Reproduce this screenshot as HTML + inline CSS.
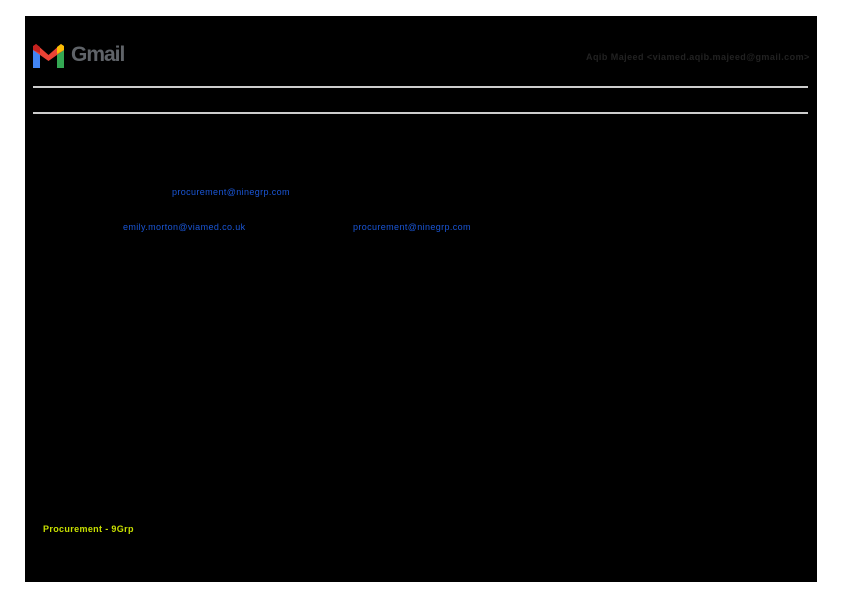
<!DOCTYPE html>
<html><head><meta charset="utf-8"><style>
html,body{margin:0;padding:0;background:#fff;width:842px;height:595px;overflow:hidden;font-family:"Liberation Sans",sans-serif}
#b{position:absolute;left:25px;top:16px;width:792px;height:566px;background:#000}
.t{position:absolute;white-space:nowrap}
.hr{position:absolute;left:33px;width:775px;height:2px;background:#ccc}
.a{color:#1a56d6;font-size:9px;letter-spacing:0.38px}
</style></head><body>
<div id="b"></div>
<svg style="position:absolute;left:33px;top:44px" width="31" height="24" viewBox="0 0 31 24">
<rect x="0" y="4" width="7" height="20" fill="#4285f4"/>
<rect x="24" y="4" width="7" height="20" fill="#34a853"/>
<polygon points="0,4 3,0 15.5,11 28,0 31,4 31,6 15.5,17 0,6" fill="#ea4335"/>
<polygon points="0,2 3,0 7,3 7,9 0,6" fill="#c5221f"/>
<polygon points="24,3 28,0 31,2 31,6 24,10" fill="#fbbc04"/>
</svg>
<div class="t" style="left:71px;top:43px;font-size:21px;font-weight:bold;color:#5f6368;letter-spacing:-1px">Gmail</div>
<div class="t" style="left:586px;top:52px;font-size:9px;font-weight:bold;color:#222;letter-spacing:0.45px">Aqib Majeed &lt;viamed.aqib.majeed@gmail.com&gt;</div>
<div class="hr" style="top:86px"></div>
<div class="hr" style="top:112px"></div>
<div class="t a" style="left:172px;top:187px">procurement@ninegrp.com</div>
<div class="t a" style="left:123px;top:222px">emily.morton@viamed.co.uk</div>
<div class="t a" style="left:353px;top:222px">procurement@ninegrp.com</div>
<div class="t" style="left:43px;top:524px;font-size:9px;font-weight:bold;color:#c8e000;letter-spacing:0.35px">Procurement - 9Grp</div>
</body></html>
